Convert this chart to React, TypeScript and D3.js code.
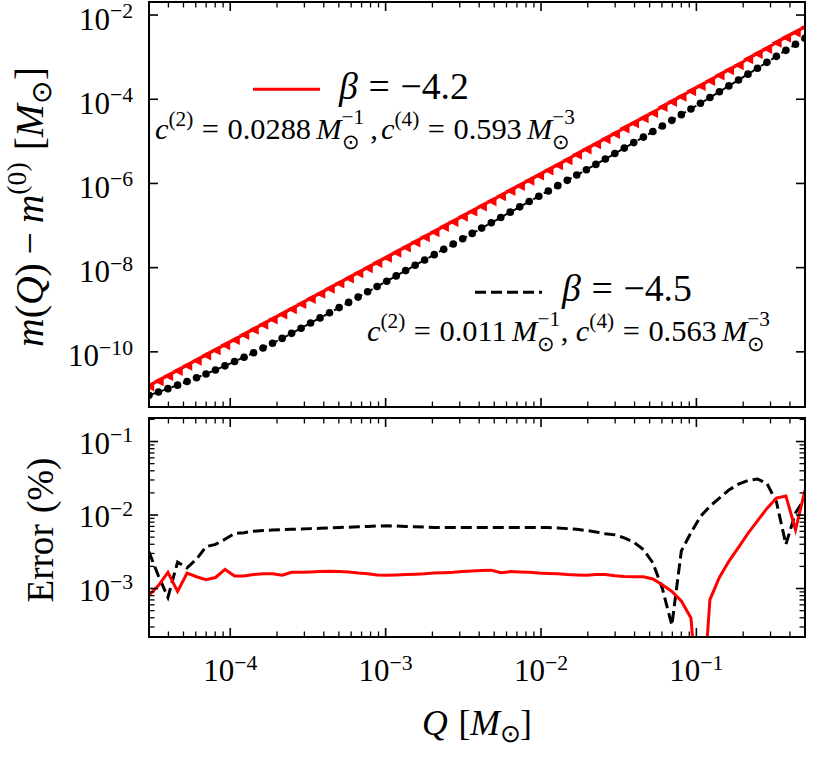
import React, { useEffect, useRef } from 'react';
import * as d3 from 'd3';

// log10(Q / Msun) sample points
const logQ = [
  -4.523, -4.462, -4.401, -4.339, -4.278, -4.217, -4.156, -4.095, -4.034, -3.972,
  -3.911, -3.850, -3.789, -3.728, -3.666, -3.605, -3.544, -3.483, -3.422, -3.361,
  -3.299, -3.238, -3.177, -3.116, -3.055, -2.993, -2.932, -2.871, -2.810, -2.749,
  -2.687, -2.626, -2.565, -2.504, -2.443, -2.382, -2.320, -2.259, -2.198, -2.137,
  -2.076, -2.014, -1.953, -1.892, -1.831, -1.770, -1.708, -1.647, -1.586, -1.525,
  -1.464, -1.403, -1.341, -1.280, -1.219, -1.158, -1.097, -1.035, -0.974, -0.913,
  -0.852, -0.791, -0.729, -0.668, -0.607, -0.546, -0.485, -0.424, -0.362, -0.301,
];

// log10(m(Q) - m0), beta = -4.2 (red)
const redM = [
  -10.815, -10.693, -10.571, -10.449, -10.327, -10.205, -10.082, -9.960, -9.838, -9.716,
  -9.594, -9.472, -9.350, -9.228, -9.106, -8.984, -8.861, -8.739, -8.617, -8.495,
  -8.373, -8.251, -8.129, -8.007, -7.885, -7.763, -7.640, -7.518, -7.396, -7.274,
  -7.152, -7.030, -6.908, -6.786, -6.664, -6.542, -6.419, -6.297, -6.175, -6.053,
  -5.931, -5.809, -5.687, -5.565, -5.443, -5.311, -5.188, -5.066, -4.944, -4.822,
  -4.690, -4.568, -4.446, -4.324, -4.182, -4.060, -3.937, -3.805, -3.683, -3.561,
  -3.429, -3.307, -3.185, -3.043, -2.921, -2.799, -2.656, -2.534, -2.412, -2.290,
];

// log10(m(Q) - m0), beta = -4.5 (black)
const blackM = [
  -11.030, -10.954, -10.874, -10.791, -10.706, -10.617, -10.525, -10.430, -10.332, -10.231,
  -10.127, -10.020, -9.910, -9.797, -9.680, -9.561, -9.439, -9.316, -9.194, -9.071,
  -8.949, -8.826, -8.700, -8.574, -8.448, -8.322, -8.196, -8.070, -7.943, -7.817,
  -7.691, -7.565, -7.439, -7.313, -7.187, -7.061, -6.935, -6.809, -6.682, -6.556,
  -6.430, -6.304, -6.178, -6.052, -5.926, -5.800, -5.674, -5.547, -5.419, -5.290,
  -5.160, -5.030, -4.899, -4.767, -4.634, -4.501, -4.366, -4.231, -4.095, -3.959,
  -3.821, -3.683, -3.544, -3.404, -3.264, -3.123, -2.981, -2.838, -2.694, -2.550,
];

// log10(Error %) beta = -4.2 (red, solid)
const redErr = [
  -3.09, -2.96, -2.78, -3.04, -2.79, -2.84, -2.88, -2.85, -2.74, -2.83,
  -2.83, -2.81, -2.80, -2.80, -2.82, -2.78, -2.78, -2.775, -2.77, -2.765,
  -2.77, -2.775, -2.79, -2.80, -2.815, -2.82, -2.815, -2.81, -2.805, -2.80,
  -2.79, -2.785, -2.78, -2.77, -2.76, -2.755, -2.75, -2.785, -2.77, -2.775,
  -2.78, -2.79, -2.795, -2.80, -2.81, -2.815, -2.82, -2.81, -2.81, -2.825,
  -2.835, -2.84, -2.84, -2.87, -2.95, -3.04, -3.17, -3.40, -5.0, -3.15,
  -2.85, -2.63, -2.44, -2.25, -2.08, -1.91, -1.77, -1.74, -2.20, -1.66,
];

// log10(Error %) beta = -4.5 (black, dashed)
const blackErr = [
  -2.50, -2.83, -3.12, -2.64, -2.72, -2.60, -2.43, -2.40, -2.33, -2.25,
  -2.24, -2.22, -2.21, -2.205, -2.20, -2.195, -2.19, -2.185, -2.18, -2.175,
  -2.17, -2.165, -2.16, -2.155, -2.15, -2.146, -2.15, -2.155, -2.16, -2.165,
  -2.168, -2.168, -2.168, -2.168, -2.168, -2.168, -2.168, -2.168, -2.168, -2.168,
  -2.168, -2.168, -2.17, -2.175, -2.185, -2.195, -2.21, -2.23, -2.255, -2.27,
  -2.31, -2.37, -2.47, -2.65, -3.00, -3.50, -2.49, -2.24, -2.02, -1.88,
  -1.77, -1.66, -1.58, -1.53, -1.51, -1.57, -1.82, -2.40, -1.97, -1.77,
];

const xTickExps = [-4, -3, -2, -1];
const topYTickExps = [-10, -8, -6, -4, -2];
const botYTickExps = [-3, -2, -1];
const legendBetas = ['−4.2', '−4.5'];
const legendC2 = ['0.0288', '0.011'];
const legendC4 = ['0.593', '0.563'];

const FONT = '"Liberation Serif", "Times New Roman", serif';

type Piece = { t?: string; it?: boolean; sc?: number; dy?: number; stack?: boolean; gap?: number };

// Lays out a small math expression as ONE <text> made of absolutely placed tspans.
function drawMath(parent: any, pieces: Piece[], o: { x: number; y: number; size: number; anchor?: string; rotate?: number; width?: number; fill?: string }) {
  const outer = parent.append('g');
  const g = outer.append('g');
  const text = g.append('text').attr('font-family', FONT).attr('fill', o.fill ?? '#000');
  let cx = 0;
  let prevStart = 0;
  let prevW = 0;
  for (const p of pieces) {
    if (p.gap != null) { cx += p.gap * o.size; continue; }
    const fs = o.size * (p.sc ?? 1);
    const start = p.stack ? prevStart : cx;
    const ts = text.append('tspan')
      .attr('x', start)
      .attr('y', (p.dy ?? 0) * o.size)
      .attr('font-size', fs)
      .attr('font-style', p.it ? 'italic' : 'normal')
      .text(p.t as string);
    const w = (ts.node() as SVGTSpanElement).getComputedTextLength();
    if (p.stack) {
      prevW = Math.max(prevW, w);
      cx = start + prevW;
    } else {
      prevStart = start;
      prevW = w;
      cx = start + w;
    }
  }
  const W = cx;
  const k = o.width ? o.width / W : 1;
  const fx = o.anchor === 'middle' ? 0.5 : o.anchor === 'end' ? 1 : 0;
  g.attr('transform', `scale(${k}) translate(${-W * fx},0)`);
  outer.attr('transform', `translate(${o.x},${o.y}) rotate(${o.rotate ?? 0})`);
}

const powPieces = (e: number): Piece[] => [{ t: '10' }, { t: '−' + Math.abs(e), sc: 0.7, dy: -0.37 }];

export default function App() {
  const ref = useRef<SVGSVGElement | null>(null);

  useEffect(() => {
    const svg = d3.select(ref.current);
    svg.selectAll('*').remove();

    const L = 149, R = 805;
    const topT = 2, topB = 407;
    const botT = 418, botB = 637;

    const x = d3.scaleLog().domain([3e-5, 0.5]).range([L, R]);
    const yTop = d3.scaleLog().domain([Math.pow(10, -11.31), Math.pow(10, -1.69)]).range([topB, topT]);
    const yBot = d3.scaleLog().domain([2.19e-4, 0.209]).range([botB, botT]);

    const Q = logQ.map((v) => Math.pow(10, v));
    const defs = svg.append('defs');
    defs.append('clipPath').attr('id', 'clipTop').append('rect').attr('x', L).attr('y', topT).attr('width', R - L).attr('height', topB - topT);
    defs.append('clipPath').attr('id', 'clipBot').append('rect').attr('x', L).attr('y', botT).attr('width', R - L).attr('height', botB - botT);

    // ---- top panel data ----
    const gTop = svg.append('g').attr('clip-path', 'url(#clipTop)');
    const lineTop = d3.line<number>().x((_, i) => x(Q[i])).y((d) => yTop(Math.pow(10, d)));
    gTop.append('path').attr('d', lineTop(redM) as string).attr('fill', 'none').attr('stroke', '#ff0000').attr('stroke-width', 2.5);
    const s = 5.2;
    gTop.selectAll('path.tri').data(redM).enter().append('path')
      .attr('class', 'tri')
      .attr('d', `M${-s},0L${s},${-s}L${s},${s}Z`)
      .attr('transform', (d, i) => `translate(${x(Q[i])},${yTop(Math.pow(10, d))})`)
      .attr('fill', '#ff0000');
    gTop.append('path').attr('d', lineTop(blackM) as string).attr('fill', 'none').attr('stroke', '#000').attr('stroke-width', 2).attr('stroke-dasharray', '8,4');
    gTop.selectAll('circle.dot').data(blackM).enter().append('circle')
      .attr('class', 'dot')
      .attr('cx', (_, i) => x(Q[i]))
      .attr('cy', (d) => yTop(Math.pow(10, d)))
      .attr('r', 3.8)
      .attr('fill', '#000');

    // ---- bottom panel data ----
    const gBot = svg.append('g').attr('clip-path', 'url(#clipBot)');
    const lineBot = d3.line<number>().x((_, i) => x(Q[i])).y((d) => yBot(Math.pow(10, d)));
    gBot.append('path').attr('d', lineBot(blackErr) as string).attr('fill', 'none').attr('stroke', '#000').attr('stroke-width', 3).attr('stroke-dasharray', '11,5');
    gBot.append('path').attr('d', lineBot(redErr) as string).attr('fill', 'none').attr('stroke', '#ff0000').attr('stroke-width', 3);

    // ---- frames & ticks ----
    const axes = svg.append('g');
    const majLen = 9, minLen = 5.5;
    const tick = (x1: number, y1: number, x2: number, y2: number, w: number) =>
      axes.append('line').attr('x1', x1).attr('y1', y1).attr('x2', x2).attr('y2', y2).attr('stroke', '#000').attr('stroke-width', w);

    const xMinor: number[] = [];
    for (let e = -5; e <= 0; e++) for (let k = 2; k <= 9; k++) {
      const v = k * Math.pow(10, e);
      if (v >= 3e-5 && v <= 0.5) xMinor.push(v);
    }
    const panels = [[topT, topB], [botT, botB]];
    panels.forEach(([t, b]) => {
      xTickExps.forEach((e) => {
        const px = x(Math.pow(10, e));
        tick(px, b, px, b - majLen, 1.6);
        tick(px, t, px, t + majLen, 1.6);
      });
      xMinor.forEach((v) => {
        const px = x(v);
        tick(px, b, px, b - minLen, 1.3);
        tick(px, t, px, t + minLen, 1.3);
      });
    });
    topYTickExps.forEach((e) => {
      const py = yTop(Math.pow(10, e));
      tick(L, py, L + majLen, py, 1.6);
      tick(R, py, R - majLen, py, 1.6);
    });
    botYTickExps.forEach((e) => {
      const py = yBot(Math.pow(10, e));
      tick(L, py, L + majLen, py, 1.6);
      tick(R, py, R - majLen, py, 1.6);
    });
    for (let e = -4; e <= -1; e++) for (let k = 2; k <= 9; k++) {
      const v = k * Math.pow(10, e);
      if (v >= 2.19e-4 && v <= 0.209) {
        const py = yBot(v);
        tick(L, py, L + minLen, py, 1.3);
        tick(R, py, R - minLen, py, 1.3);
      }
    }
    panels.forEach(([t, b]) => {
      axes.append('rect').attr('x', L).attr('y', t).attr('width', R - L).attr('height', b - t)
        .attr('fill', 'none').attr('stroke', '#000').attr('stroke-width', 2);
    });

    // ---- tick labels ----
    const txt = svg.append('g');
    xTickExps.forEach((e) => drawMath(txt, powPieces(e), { x: x(Math.pow(10, e)), y: 681, size: 31, anchor: 'middle' }));
    topYTickExps.forEach((e) => drawMath(txt, powPieces(e), { x: 133, y: yTop(Math.pow(10, e)) + 14.5, size: 31, anchor: 'end' }));
    botYTickExps.forEach((e) => drawMath(txt, powPieces(e), { x: 133, y: yBot(Math.pow(10, e)) + 12, size: 31, anchor: 'end' }));

    // ---- axis labels ----
    drawMath(txt, [
      { t: 'm', it: true }, { t: '(' }, { t: 'Q', it: true }, { t: ')' }, { gap: 0.22 }, { t: '−' }, { gap: 0.22 },
      { t: 'm', it: true }, { t: '(0)', sc: 0.7, dy: -0.42 }, { gap: 0.3 }, { t: '[' }, { t: 'M', it: true },
      { t: '⊙', sc: 0.7, dy: 0.2 }, { t: ']' },
    ], { x: 43, y: 207, size: 30, anchor: 'middle', rotate: -90, width: 280 });
    drawMath(txt, [{ t: 'Error' }, { gap: 0.3 }, { t: '(%)' }], { x: 53, y: 530, size: 32, anchor: 'middle', rotate: -90, width: 145 });
    drawMath(txt, [
      { t: 'Q', it: true }, { gap: 0.3 }, { t: '[' }, { t: 'M', it: true }, { t: '⊙', sc: 0.7, dy: 0.2 }, { t: ']' },
    ], { x: 477, y: 735, size: 32, anchor: 'middle', width: 110 });

    // ---- legends ----
    const leg = svg.append('g');
    leg.append('line').attr('x1', 253).attr('x2', 320).attr('y1', 89.3).attr('y2', 89.3).attr('stroke', '#ff0000').attr('stroke-width', 3);
    leg.append('line').attr('x1', 475).attr('x2', 542).attr('y1', 292.3).attr('y2', 292.3).attr('stroke', '#000').attr('stroke-width', 3).attr('stroke-dasharray', '11,5');
    const betaPieces = (b: string): Piece[] => [{ t: 'β', it: true }, { gap: 0.28 }, { t: '=' }, { gap: 0.28 }, { t: b }];
    drawMath(leg, betaPieces(legendBetas[0]), { x: 339, y: 99, size: 31, width: 130 });
    drawMath(leg, betaPieces(legendBetas[1]), { x: 562, y: 301, size: 31, width: 130 });
    const cPieces = (c2: string, c4: string, spaceBeforeComma: boolean): Piece[] => [
      { t: 'c', it: true }, { t: '(2)', sc: 0.7, dy: -0.42 }, { gap: 0.28 }, { t: '=' }, { gap: 0.28 }, { t: c2 }, { gap: 0.17 },
      { t: 'M', it: true }, { t: '⊙', sc: 0.7, dy: 0.34 }, { t: '−1', sc: 0.7, dy: -0.48, stack: true },
      { gap: spaceBeforeComma ? 0.2 : 0.02 }, { t: ',' }, { gap: spaceBeforeComma ? 0.1 : 0.25 },
      { t: 'c', it: true }, { t: '(4)', sc: 0.7, dy: -0.42 }, { gap: 0.28 }, { t: '=' }, { gap: 0.28 }, { t: c4 }, { gap: 0.17 },
      { t: 'M', it: true }, { t: '⊙', sc: 0.7, dy: 0.34 }, { t: '−3', sc: 0.7, dy: -0.48, stack: true },
    ];
    drawMath(leg, cPieces(legendC2[0], legendC4[0], true), { x: 155, y: 139, size: 26, width: 420 });
    drawMath(leg, cPieces(legendC2[1], legendC4[1], false), { x: 367, y: 341, size: 26, width: 403 });
  }, []);

  return (
    <svg
      ref={ref}
      width={830}
      height={775}
      style={{ position: 'absolute', left: 0, top: 0, background: '#fff', fontFamily: FONT }}
    />
  );
}
